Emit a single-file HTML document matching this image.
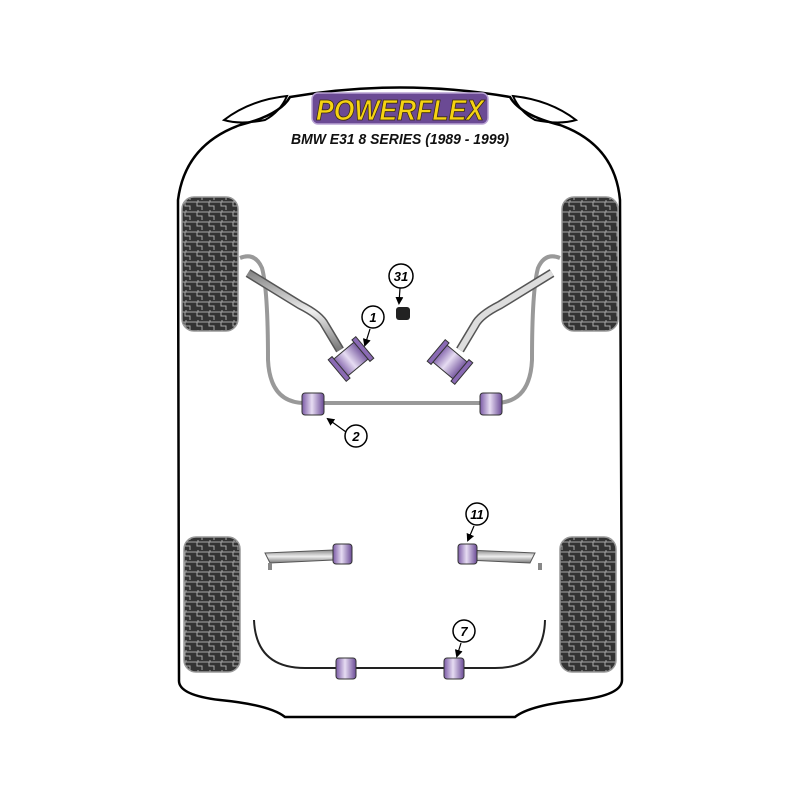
<!DOCTYPE html>
<html><head><meta charset="utf-8"><style>body{margin:0;background:#fff}svg{display:block}</style></head><body>
<svg width="800" height="800" viewBox="0 0 800 800" xmlns="http://www.w3.org/2000/svg">
<defs>
<pattern id="tread" width="12" height="10" patternUnits="userSpaceOnUse">
<rect width="12" height="10" fill="#333"/>
<path d="M0 2 H5 V6 H10 V10 M6 0 V2 H12" stroke="#aaa" stroke-width="1" fill="none"/>
</pattern>
<linearGradient id="pur" x1="0" y1="0" x2="1" y2="0"><stop offset="0" stop-color="#7b5aa6"/><stop offset="0.45" stop-color="#e6dcf2"/><stop offset="1" stop-color="#6a4a96"/></linearGradient>
<linearGradient id="arm" x1="0" y1="0" x2="0" y2="1"><stop offset="0" stop-color="#888"/><stop offset="0.5" stop-color="#eee"/><stop offset="1" stop-color="#777"/></linearGradient>
<marker id="ah" markerWidth="8" markerHeight="8" refX="6" refY="4" orient="auto" markerUnits="userSpaceOnUse"><path d="M0 0 L8 4 L0 8 Z" fill="#000"/></marker>
</defs>
<g fill="none" stroke="#000" stroke-width="2.5">
<path d="M290 97 Q400 78 510 97 Q520 115 560 125 Q615 145 620 200 L622 680 Q622 695 580 700 Q530 705 515 717 L285 717 Q270 705 220 700 Q178 695 179 680 L178 200 Q185 145 240 125 Q280 115 290 97 Z"/>
<path d="M224 120 Q250 100 287 96 Q280 112 265 120 Q240 125 224 120 Z" stroke-width="2"/>
<path d="M576 120 Q550 100 513 96 Q520 112 535 120 Q560 125 576 120 Z" stroke-width="2"/>
</g>
<g fill="url(#tread)" stroke="#999" stroke-width="1.5">
<rect x="182" y="197" width="56" height="134" rx="12"/>
<rect x="562" y="197" width="56" height="134" rx="12"/>
<rect x="184" y="537" width="56" height="135" rx="12"/>
<rect x="560" y="537" width="56" height="135" rx="12"/>
</g>
<rect x="312" y="93" width="176" height="31" rx="6" fill="#6b4a94" stroke="#b9a3d4" stroke-width="1.5"/>
<text x="400" y="120" text-anchor="middle" font-family="Liberation Sans, sans-serif" font-weight="bold" font-style="italic" font-size="29" fill="#f5d312" stroke="#3a2a10" stroke-width="0.8" textLength="168" lengthAdjust="spacingAndGlyphs">POWERFLEX</text>
<text x="400" y="144" text-anchor="middle" font-family="Liberation Sans, sans-serif" font-weight="bold" font-style="italic" font-size="15" fill="#111" textLength="218" lengthAdjust="spacingAndGlyphs">BMW E31 8 SERIES (1989 - 1999)</text>
<path d="M240 258 Q255 252 262 268 Q268 290 268 360 Q270 403 305 403 L495 403 Q530 403 532 360 Q532 290 538 268 Q545 252 560 258" fill="none" stroke="#999" stroke-width="4"/>
<path d="M248 273 L300 305 Q320 315 325 325 L340 350" fill="none" stroke="#555" stroke-width="9"/>
<path d="M248 273 L300 305 Q320 315 325 325 L340 350" fill="none" stroke="url(#arm)" stroke-width="6"/>
<path d="M552 273 L500 305 Q480 315 475 325 L460 350" fill="none" stroke="#555" stroke-width="9"/>
<path d="M552 273 L500 305 Q480 315 475 325 L460 350" fill="none" stroke="#ddd" stroke-width="6"/>
<g transform="translate(351,359) rotate(-40)"><rect x="-15" y="-11" width="30" height="22" rx="3" fill="url(#pur)" stroke="#333"/><rect x="-18" y="-14" width="5" height="28" fill="#8a6ab4" stroke="#333"/><rect x="13" y="-14" width="5" height="28" fill="#8a6ab4" stroke="#333"/></g>
<g transform="translate(450,362) rotate(40)"><rect x="-15" y="-11" width="30" height="22" rx="3" fill="url(#pur)" stroke="#333"/><rect x="-18" y="-14" width="5" height="28" fill="#8a6ab4" stroke="#333"/><rect x="13" y="-14" width="5" height="28" fill="#8a6ab4" stroke="#333"/></g>
<g stroke="#333" fill="url(#pur)"><rect x="302" y="393" width="22" height="22" rx="3"/><rect x="480" y="393" width="22" height="22" rx="3"/></g>
<rect x="396" y="307" width="14" height="13" rx="3" fill="#222"/>
<path d="M254 620 Q256 668 305 668 L495 668 Q544 668 545 620" fill="none" stroke="#222" stroke-width="2"/>
<g stroke="#333" fill="url(#pur)"><rect x="336" y="658" width="20" height="21" rx="3"/><rect x="444" y="658" width="20" height="21" rx="3"/></g>
<path d="M265 553 L333 550 L333 560 L270 563 Z" fill="url(#arm)" stroke="#555"/>
<rect x="268" y="563" width="4" height="7" fill="#888"/>
<path d="M535 553 L467 550 L467 560 L530 563 Z" fill="url(#arm)" stroke="#555"/>
<rect x="538" y="563" width="4" height="7" fill="#888"/>
<g stroke="#333" fill="url(#pur)"><rect x="333" y="544" width="19" height="20" rx="3"/><rect x="458" y="544" width="19" height="20" rx="3"/></g>
<g fill="#fff" stroke="#000" stroke-width="1.5">
<circle cx="401" cy="276" r="12"/><circle cx="373" cy="317" r="11"/><circle cx="356" cy="436" r="11"/><circle cx="477" cy="514" r="11"/><circle cx="464" cy="631" r="11"/>
</g>
<g font-family="Liberation Sans, sans-serif" font-weight="bold" font-style="italic" font-size="13" text-anchor="middle" fill="#000">
<text x="401" y="281">31</text><text x="373" y="322">1</text><text x="356" y="441">2</text><text x="477" y="519">11</text><text x="464" y="636">7</text>
</g>
<g stroke="#000" stroke-width="1.2" fill="none" marker-end="url(#ah)">
<path d="M400 288 L399 303"/><path d="M370 329 L365 345"/><path d="M346 432 L328 419"/><path d="M474 526 L468 540"/><path d="M461 643 L457 656"/>
</g>
</svg>
</body></html>
